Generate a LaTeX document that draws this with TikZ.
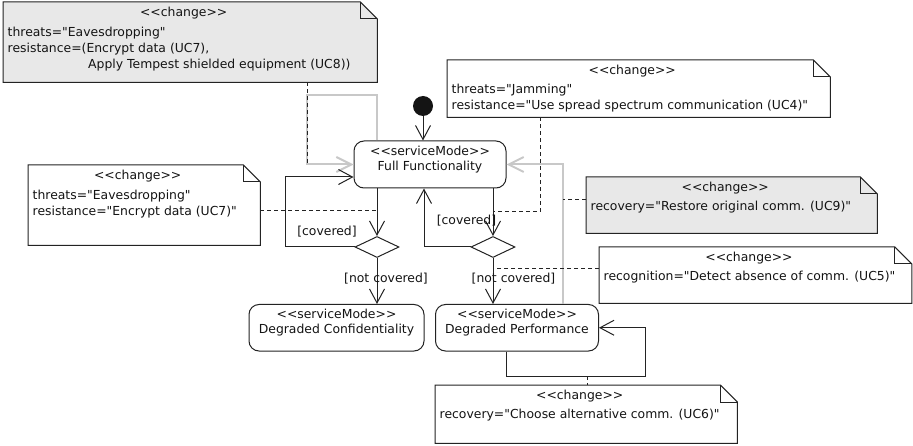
\documentclass[tikz,border=0pt]{standalone}
\usepackage{fontspec}
\newfontfamily\dejavu{DejaVu Sans}
\usetikzlibrary{arrows.meta,shapes.geometric,calc}

\definecolor{ink}{RGB}{35,35,35}
\definecolor{txt}{RGB}{20,20,20}
\definecolor{paleline}{RGB}{200,200,200}
\definecolor{notegray}{RGB}{232,232,232}

% folded-corner outline around an empty rectangle node
\newcommand\changenote[2]{%
  \filldraw[noteline, fill=#2] (#1.north west) -- ([xshift=-17pt]#1.north east)
    -- ([yshift=-17pt]#1.north east) -- (#1.south east) -- (#1.south west) -- cycle;
  \draw[noteline] ([xshift=-17pt]#1.north east) |- ([yshift=-17pt]#1.north east);}

\begin{document}
\begin{tikzpicture}[x=1pt,y=-1pt,
  lbl/.style={font=\dejavu\fontsize{12.4}{15}\selectfont, text=txt, inner sep=0pt},
  statebox/.style={draw=ink, line width=1pt, rounded corners=10pt, fill=white, inner sep=0pt},
  choice/.style={diamond, draw=ink, line width=1pt, fill=white, inner sep=0pt,
    minimum width=44pt, minimum height=21pt},
  startdot/.style={circle, fill=black!92, inner sep=0pt, minimum size=20pt},
  notebox/.style={rectangle, inner sep=0pt, anchor=north west},
  noteline/.style={draw=ink, line width=1pt},
  flow/.style={draw=ink, line width=1pt,
    -{Straight Barb[length=14pt, width=15pt, line width=1pt]}},
  reflow/.style={draw=paleline, line width=2pt,
    -{Straight Barb[length=15pt, width=15pt, line width=2pt]}},
  anchorline/.style={draw=ink, line width=1pt, dash pattern=on 4pt off 3pt},
]
\useasboundingbox (0,0) rectangle (913,446);
\fill[white] (0,0) rectangle (913,446);

% ---------- notes ----------
\node[notebox, minimum width=374pt, minimum height=80pt] (eavesTwo) at (3,2) {};
\changenote{eavesTwo}{notegray}
\node[lbl, anchor=base] (eavesTwoTitle) at ($(eavesTwo.north)+(-6.5,15)$) {<<change>>};
\node[lbl, anchor=base west] (eavesTwoA) at ($(eavesTwo.north west)+(4.5,35)$) {threats="Eavesdropping"};
\node[lbl, anchor=base west] (eavesTwoB) at ($(eavesTwo.north west)+(4.5,51)$) {resistance=(Encrypt data (UC7),};
\node[lbl, anchor=base west] (eavesTwoC) at ($(eavesTwo.north west)+(85,67)$) {Apply Tempest shielded equipment (UC8))};

\node[notebox, minimum width=383pt, minimum height=57pt] (jam) at (447,60) {};
\changenote{jam}{white}
\node[lbl, anchor=base] (jamTitle) at ($(jam.north)+(-6.5,14.5)$) {<<change>>};
\node[lbl, anchor=base west] (jamA) at ($(jam.north west)+(4.5,33.5)$) {threats="Jamming"};
\node[lbl, anchor=base west] (jamB) at ($(jam.north west)+(4.5,49.5)$) {resistance="Use spread spectrum communication (UC4)"};

\node[notebox, minimum width=232pt, minimum height=80pt] (eavesOne) at (28,165) {};
\changenote{eavesOne}{white}
\node[lbl, anchor=base] (eavesOneTitle) at ($(eavesOne.north)+(-6.5,14.5)$) {<<change>>};
\node[lbl, anchor=base west] (eavesOneA) at ($(eavesOne.north west)+(4.5,34.5)$) {threats="Eavesdropping"};
\node[lbl, anchor=base west] (eavesOneB) at ($(eavesOne.north west)+(4.5,50.5)$) {resistance="Encrypt data (UC7)"};

\node[notebox, minimum width=291pt, minimum height=56pt] (restore) at (586,177) {};
\changenote{restore}{notegray}
\node[lbl, anchor=base] (restoreTitle) at ($(restore.north)+(-6.5,14.5)$) {<<change>>};
\node[lbl, anchor=base west] (restoreA) at ($(restore.north west)+(4.5,33.5)$) {recovery="Restore original comm. (UC9)"};

\node[notebox, minimum width=312.5pt, minimum height=56pt] (detect) at (599,247) {};
\changenote{detect}{white}
\node[lbl, anchor=base] (detectTitle) at ($(detect.north)+(-6.5,14.5)$) {<<change>>};
\node[lbl, anchor=base west] (detectA) at ($(detect.north west)+(4.5,33.5)$) {recognition="Detect absence of comm. (UC5)"};

\node[notebox, minimum width=302pt, minimum height=58pt] (choose) at (435,385) {};
\changenote{choose}{white}
\node[lbl, anchor=base] (chooseTitle) at ($(choose.north)+(-6.5,14.5)$) {<<change>>};
\node[lbl, anchor=base west] (chooseA) at ($(choose.north west)+(4.5,33.5)$) {recovery="Choose alternative comm. (UC6)"};

% ---------- states ----------
\node[startdot] (init) at (423,106) {};

\node[statebox, minimum width=152pt, minimum height=47pt] (full) at (430,164.5) {};
\node[lbl, anchor=base] (fullStereo) at ($(full.north)+(0,14.8)$) {<<serviceMode>>};
\node[lbl, anchor=base] (fullName) at ($(full.north)+(0,29.8)$) {Full Functionality};

\node[statebox, minimum width=175pt, minimum height=46.5pt] (conf) at (336.5,327.75) {};
\node[lbl, anchor=base] (confStereo) at ($(conf.north)+(0,14.3)$) {<<serviceMode>>};
\node[lbl, anchor=base] (confName) at ($(conf.north)+(0,29.3)$) {Degraded Confidentiality};

\node[statebox, minimum width=163pt, minimum height=46.5pt] (perf) at (517,327.75) {};
\node[lbl, anchor=base] (perfStereo) at ($(perf.north)+(0,14.3)$) {<<serviceMode>>};
\node[lbl, anchor=base] (perfName) at ($(perf.north)+(0,29.3)$) {Degraded Performance};

\node[choice] (chA) at (377,247) {};
\node[choice] (chB) at (493,247) {};

% ---------- bend points ----------
\coordinate (grayTop) at (307,95);
\coordinate (loopA) at (285,247);
\coordinate (perfLoop) at (645,376);
\coordinate (jamBend) at (540,212);
\coordinate (eavesTap) at (377,211);
\coordinate (restoreTap) at (563,200);
\coordinate (detectTap) at (493,269);
\coordinate (chooseTap) at (587,376);

% ---------- recovery transitions (pale) ----------
\draw[reflow] ($(full.north)+(-53,0)$) |- (grayTop) |- (full.west);
\draw[reflow] ($(perf.north)+(46,0)$) |- (full.east);

% ---------- transitions ----------
\draw[flow] (init) -- (init |- full.north);
\draw[flow] (full.south -| chA) -- (chA.north);
\draw[flow] (chA.south) -- (conf.north -| chA);
\draw[flow] (chA.west) -- (loopA) |- ($(full.west)+(0,12.5)$);
\draw[flow] (full.south -| chB) -- (chB.north);
\draw[flow] (chB.south) -- (perf.north -| chB);
\draw[flow] (chB.west) -| ($(full.south)+(-6,0)$);
\draw[flow] ($(perf.south)+(-11,0)$) |- (perfLoop) |- (perf.east);

\node[lbl] (covA) at (327,232) {[covered]};
\node[lbl] (notCovA) at (386,278.5) {[not covered]};
\node[lbl] (covB) at (466.5,220.5) {[covered]};
\node[lbl] (notCovB) at (513.5,278.5) {[not covered]};

% ---------- note anchors ----------
\draw[anchorline] (grayTop |- eavesTwo.south) -- (grayTop |- full.west);
\draw[anchorline] (jamBend |- jam.south) -- (jamBend) -- (jamBend -| chB);
\draw[anchorline] (eavesTap -| eavesOne.east) -- (eavesTap);
\draw[anchorline] (restoreTap -| restore.west) -- (restoreTap);
\draw[anchorline] (detectTap -| detect.west) -- (detectTap);
\draw[anchorline] (chooseTap) -- (chooseTap |- choose.north);
\end{tikzpicture}
\end{document}
